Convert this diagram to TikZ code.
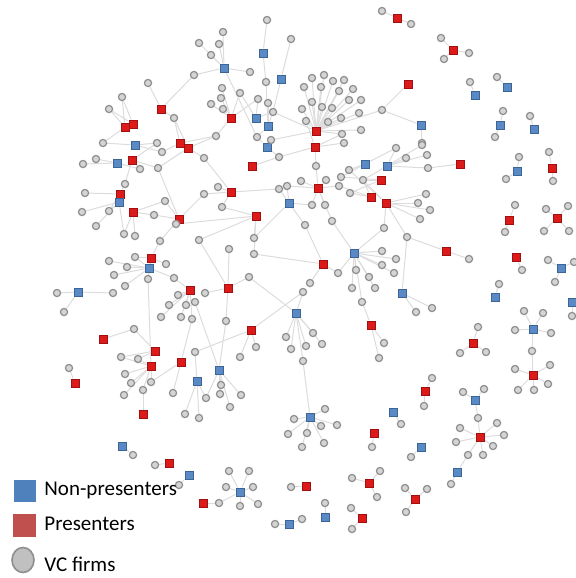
\documentclass[tikz,border=0pt]{standalone}
\usepackage{fontspec}
\setmainfont{Carlito}
\usetikzlibrary{backgrounds, shapes.geometric}
\definecolor{presred}{HTML}{DD1A1A}
\definecolor{presline}{HTML}{A01010}
\definecolor{nonblue}{HTML}{5A8AC6}
\definecolor{nonline}{HTML}{3C6596}
\definecolor{vcfill}{HTML}{D4D4D4}
\definecolor{vcline}{HTML}{8E8E8E}
\definecolor{linkgray}{HTML}{DCDCDC}
\definecolor{legblue}{HTML}{4F81BD}
\definecolor{legred}{HTML}{C0504D}
\definecolor{leggray}{HTML}{C0C0C0}
\tikzset{
    vc/.style={circle, draw=vcline, fill=vcfill, line width=0.6pt, inner sep=0pt, minimum size=3.6pt},
    pres/.style={rectangle, draw=presline, fill=presred, line width=0.3pt, inner sep=0pt, minimum size=4.2pt},
    nonpres/.style={rectangle, draw=nonline, fill=nonblue, line width=0.3pt, inner sep=0pt, minimum size=4.2pt},
    link/.style={draw=linkgray, line width=0.5pt},
    legtxt/.style={anchor=west, inner sep=0pt, font=\fontsize{10.5}{12}\selectfont}
}
\begin{document}
\begin{tikzpicture}[x=0.5pt, y=-0.5pt]
\useasboundingbox (0,0) rectangle (575,578);

% presenters
\foreach \n/\x/\y in {1/397/18, 2/453/50, 3/408/84, 4/161/109, 5/133/124, 6/125/127, 7/231/118, 8/316/131,
    9/180/143, 10/188/148, 11/315/147, 12/132/160, 13/252/166, 14/460/164, 15/381/180, 16/371/197,
    17/386/203, 18/318/188, 19/231/192, 20/120/194, 21/133/212, 22/179/219, 23/256/216, 24/552/168,
    25/509/220, 26/557/218, 27/446/251, 28/516/257, 29/323/264, 30/151/258, 31/190/290, 32/228/288,
    33/251/330, 34/371/325, 35/103/339, 36/155/351, 37/181/362, 38/151/366, 39/75/383, 40/143/414,
    41/473/343, 42/533/375, 43/425/391, 44/374/433, 45/480/437, 46/169/463, 47/203/503, 48/306/486,
    49/369/483, 50/415/499, 51/362/518}
    \node[pres] (p\n) at (\x,\y) {};

% non-presenters
\foreach \n/\x/\y in {1/263/53, 2/224/68, 3/281/79, 4/475/95, 5/507/87, 6/256/118, 7/268/126, 8/421/125,
    9/500/125, 10/534/129, 11/135/145, 12/267/147, 13/117/163, 14/365/164, 15/387/166, 16/517/171,
    17/119/202, 18/289/203, 19/354/253, 20/149/268, 21/561/268, 22/78/292, 23/402/293, 24/495/297,
    25/572/302, 26/296/313, 27/533/329, 28/219/370, 29/197/381, 30/475/400, 31/393/412, 32/310/417,
    33/122/446, 34/421/447, 35/457/472, 36/189/475, 37/240/492, 38/325/517, 39/289/524}
    \node[nonpres] (n\n) at (\x,\y) {};

% VC firms
\foreach \x/\y in {382/11, 411/24, 267/20, 441/38, 469/53, 444/59, 382/110, 422/143, 470/82, 497/77,
    503/111, 495/137, 530/116, 519/157, 506/179, 549/152, 553/181, 515/205, 505/232, 546/209, 568/206,
    544/231, 569/231, 522/270, 499/284, 548/260, 574/262, 555/282, 572/316, 478/327, 460/353, 486/352,
    524/311, 543/313, 515/330, 551/333, 532/351, 515/369, 550/365, 548/384, 518/390, 534/390, 432/378,
    424/406, 401/424, 463/392, 484/389, 478/418, 460/428, 497/423, 504/435, 456/442, 493/446, 468/455,
    483/455, 451/484, 411/457, 405/488, 427/489, 406/512, 352/478, 380/471, 377/497, 372/447, 351/508,
    352/529, 325/503, 275/524, 302/519, 291/487, 229/471, 249/471, 226/487, 253/487, 219/503, 240/506,
    258/504, 133/455, 155/465, 179/485,
    325/409, 294/419, 321/426, 337/425, 288/434, 307/433, 324/443, 302/447, 303/361,
    286/337, 313/333, 322/344, 291/349, 306/346, 303/292, 256/347, 240/357, 195/352,
    226/321, 221/385, 206/398, 220/394, 241/395, 230/407, 199/418, 185/414,
    178/295, 169/305, 186/305, 161/317, 181/317, 192/319, 195/302, 205/293,
    134/329, 121/357, 138/359, 125/374, 131/383, 151/382, 143/390, 124/395, 173/393, 69/368,
    362/302, 384/343, 379/358, 416/312, 432/308,
    382/251, 382/265, 356/270, 338/273, 369/277, 352/288, 375/288, 396/259, 394/273,
    310/283, 305/225, 332/221, 312/205, 325/205, 301/181, 287/186, 279/189, 326/180, 339/186,
    350/193, 363/180, 341/177, 349/170, 316/166, 279/157, 204/158, 218/187, 204/194, 222/207,
    254/238, 229/249, 254/254, 249/277, 199/240,
    396/148, 422/145, 406/158, 427/155, 428/168, 426/194, 418/203, 430/210, 420/219, 384/228,
    407/237, 469/259,
    312/78, 324/75, 333/81, 344/80, 304/87, 321/87, 339/91, 353/89, 312/102, 322/107, 332/108,
    349/100, 361/100, 302/109, 359/113, 306/121, 328/122, 341/118, 342/134, 361/130, 344/143,
    223/32, 199/43, 219/44, 291/39, 211/55, 194/75, 250/72, 266/82, 222/88, 240/93, 221/98,
    258/99, 211/104, 268/103, 223/109, 273/112, 216/136, 257/137, 271/140,
    148/83, 122/97, 109/109, 174/118, 103/143, 157/143, 162/152, 83/164, 96/159, 140/169, 158/168,
    125/184, 85/193, 82/212, 109/211, 154/215, 176/224, 165/201, 96/226, 124/234, 135/236, 160/241,
    135/257, 109/261, 127/267, 166/264, 114/275, 148/279, 174/278, 125/286, 57/293, 113/293, 64/312}
    \node[vc] (v\x-\y) at (\x,\y) {};

% investments
\begin{pgfonlayer}{background}
\foreach \a/\b in {p1/v382-11, p1/v411-24, p2/v441-38, p2/v469-53, p2/v444-59,
    p3/v382-110, n8/v382-110, n8/v422-143, p8/v382-110,
    n4/v470-82, n5/v497-77, n9/v503-111, n9/v495-137, n10/v530-116,
    n16/v519-157, n16/v506-179, p24/v549-152, p24/v553-181, p25/v515-205, p25/v505-232,
    p26/v546-209, p26/v568-206, p26/v544-231, p26/v569-231,
    p28/v522-270, n21/v548-260, n21/v574-262, n21/v555-282, n24/v499-284, n25/v572-316,
    p41/v478-327, p41/v460-353, p41/v486-352,
    n27/v524-311, n27/v543-313, n27/v515-330, n27/v551-333, n27/v532-351,
    p42/v532-351, p42/v515-369, p42/v550-365, p42/v548-384, p42/v518-390, p42/v534-390,
    p43/v432-378, p43/v424-406, n31/v401-424, n30/v463-392, n30/v484-389, n30/v478-418,
    p45/v478-418, p45/v497-423, p45/v504-435, p45/v456-442, p45/v493-446, p45/v468-455,
    p45/v483-455, p45/v460-428, n35/v468-455, n35/v451-484, n34/v411-457,
    p50/v405-488, p50/v427-489, p50/v406-512, p49/v352-478, p49/v380-471, p49/v377-497,
    p44/v372-447, p51/v351-508, p51/v352-529, n38/v325-503, n39/v275-524, n39/v302-519,
    p48/v291-487, n37/v229-471, n37/v249-471, n37/v226-487, n37/v253-487, n37/v219-503,
    n37/v240-506, n37/v258-504, p47/v219-503, n33/v133-455, p46/v155-465, n36/v179-485,
    n32/v325-409, n32/v294-419, n32/v321-426, n32/v337-425, n32/v288-434, n32/v307-433,
    n32/v324-443, n32/v302-447, n32/v303-361,
    n26/v303-361, n26/v286-337, n26/v313-333, n26/v322-344, n26/v291-349, n26/v306-346,
    n26/v303-292, n26/v249-277, p33/v303-292, p33/v256-347, p33/v240-357, p33/v195-352,
    n28/v226-321, n28/v221-385, n28/v206-398, n28/v220-394, n28/v241-395, n28/v230-407,
    n28/v195-302, n29/v195-352, n29/v199-418, n29/v185-414, n29/v206-398,
    p32/v226-321, p32/v249-277, p32/v229-249, p32/v205-293, p32/v199-240,
    p31/v174-278, p31/v178-295, p31/v169-305, p31/v186-305, p31/v161-317, p31/v181-317, p31/v192-319,
    p35/v134-329, p36/v134-329, p36/v121-357, p36/v138-359,
    p38/v121-357, p38/v138-359, p38/v125-374, p38/v131-383, p38/v151-382, p38/v143-390,
    p38/v124-395, p38/v148-279, p37/v192-319, p37/v173-393, p37/v151-382, p39/v69-368, p40/v143-390,
    p34/v362-302, p34/v384-343, p34/v379-358, n19/v362-302,
    n23/v407-237, n23/v416-312, n23/v432-308,
    n19/v382-251, n19/v382-265, n19/v356-270, n19/v338-273, n19/v369-277, n19/v352-288,
    n19/v375-288, n19/v396-259, n19/v394-273, n19/v332-221, n19/v384-228,
    p29/v305-225, p29/v338-273, p29/v310-283, p29/v254-254,
    p18/v301-181, p18/v326-180, p18/v312-205, p18/v325-205, p18/v332-221, p18/v316-166,
    p18/v287-186, p18/v339-186,
    n18/v279-189, n18/v287-186, n18/v305-225, n18/v312-205, n18/v254-238,
    p19/v204-194, p19/v218-187, p19/v222-207, p19/v279-189, p19/v204-158,
    p23/v222-207, p23/v254-238, p23/v199-240, p23/v254-254, p23/v176-224,
    p22/v165-201, p22/v154-215, p22/v176-224, p22/v204-194, p22/v160-241, p22/v158-168,
    p21/v154-215, p21/v165-201, p21/v124-234, p21/v135-236,
    p20/v85-193, p20/v125-184, p20/v109-211,
    n17/v82-212, n17/v109-211, n17/v96-226, n17/v124-234,
    n13/v83-164, n13/v96-159, n13/v140-169,
    p12/v140-169, p12/v157-143, p12/v125-184, p12/v158-168,
    n11/v157-143, n11/v162-152, n11/v103-143,
    p9/v174-118, p9/v162-152, p9/v216-136, p10/v204-158, p10/v216-136, p10/v158-168, p10/v174-118,
    p4/v148-83, p4/v174-118, p4/v194-75,
    p5/v122-97, p5/v109-109, p6/v109-109, p6/v103-143, p6/v122-97,
    p7/v222-88, p7/v240-93, p7/v221-98, p7/v211-104, p7/v223-109, p7/v216-136, p7/v258-99,
    n2/v223-32, n2/v199-43, n2/v219-44, n2/v211-55, n2/v194-75, n2/v250-72, n2/v257-137,
    n1/v267-20, n1/v266-82, n3/v291-39, n3/v273-112,
    n6/v258-99, n6/v273-112, n6/v240-93, n7/v268-103, n7/v266-82, n7/v273-112, n7/v257-137,
    n12/v257-137, n12/v271-140, n12/v279-157,
    p8/v312-78, p8/v324-75, p8/v333-81, p8/v344-80, p8/v304-87, p8/v321-87, p8/v339-91,
    p8/v353-89, p8/v312-102, p8/v322-107, p8/v332-108, p8/v349-100, p8/v361-100, p8/v302-109,
    p8/v359-113, p8/v306-121, p8/v328-122, p8/v341-118, p8/v342-134, p8/v361-130,
    p8/v273-112, p8/v271-140,
    p11/v344-143, p11/v342-134, p11/v316-166, p11/v306-121, p11/v279-157, p13/v279-157,
    n14/v349-170, n14/v396-148, n14/v341-177,
    n15/v396-148, n15/v406-158, n15/v422-145, n15/v427-155, n15/v428-168, n15/v363-180,
    p14/v428-168, p15/v363-180, p15/v350-193, p15/v341-177,
    p16/v350-193, p16/v339-186, p16/v363-180,
    p17/v426-194, p17/v418-203, p17/v430-210, p17/v420-219, p17/v384-228, p17/v407-237,
    p17/v363-180, p17/v349-170,
    p27/v407-237, p27/v469-259,
    p30/v135-257, p30/v166-264, p30/v160-241, p30/v148-279,
    n20/v127-267, n20/v109-261, n20/v114-275, n20/v148-279, n20/v174-278, n20/v125-286, n20/v135-257,
    n22/v57-293, n22/v113-293, n22/v64-312}
    \draw[link] (\a) -- (\b);
\end{pgfonlayer}

% legend
\node[rectangle, fill=legblue, minimum size=11pt, inner sep=0pt] (kn) at (25,491) {};
\node[legtxt] (tn) at (44,490) {Non-presenters};
\node[rectangle, fill=legred, minimum size=11.5pt, inner sep=0pt] (kp) at (24,525) {};
\node[legtxt] (tp) at (44,524) {Presenters};
\node[ellipse, draw=vcline, fill=leggray, line width=0.8pt, minimum width=11pt, minimum height=12.5pt, inner sep=0pt] (kv) at (23,560) {};
\node[legtxt] (tv) at (44,564) {VC firms};
\end{tikzpicture}
\end{document}
